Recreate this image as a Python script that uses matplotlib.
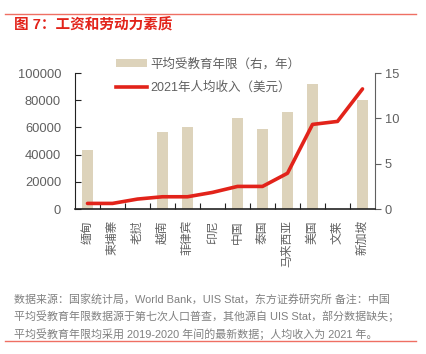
import matplotlib
matplotlib.use("Agg")
import matplotlib.pyplot as plt
from matplotlib.patches import Patch
from matplotlib.lines import Line2D

plt.rcParams['font.family'] = ['Liberation Sans', 'Noto Sans CJK SC', 'DejaVu Sans']

countries = ['缅甸', '柬埔寨', '老挝', '越南', '菲律宾', '印尼', '中国', '泰国',
             '马来西亚', '美国', '文莱', '新加坡']
# years of schooling (right axis), None = missing
edu_years = [6.5, None, None, 8.45, 9.05, None, 10.0, 8.8, 10.7, 13.75, None, 12.0]
# 2021 income per capita (USD, left axis)
income = [4100, 4100, 7300, 9000, 9000, 12200, 16600, 16600, 26300, 62200, 64400, 88300]

RED = '#E2231A'
BEIGE = '#DDD3BB'
GREY = '#606060'

fig = plt.figure(figsize=(4.26, 3.54), dpi=100)
ax = fig.add_axes([75 / 426, 1 - 209 / 354, 300 / 426, 136 / 354])
ax2 = ax.twinx()

x = list(range(len(countries)))
bx = [i for i, v in zip(x, edu_years) if v is not None]
bv = [v for v in edu_years if v is not None]
ax2.bar(bx, bv, width=0.45, color=BEIGE, zorder=1)
ax.plot(x, income, color=RED, lw=2.6, solid_capstyle='round', zorder=3)

# line above the bars
ax.set_zorder(ax2.get_zorder() + 1)
ax.patch.set_visible(False)

ax.set_xlim(-0.5, 11.5)
ax.set_ylim(0, 100000)
ax2.set_ylim(0, 15)
ax.set_yticks([0, 20000, 40000, 60000, 80000, 100000])
ax2.set_yticks([0, 5, 10, 15])

ax.set_xticks([i + 0.5 for i in range(11)])
ax.set_xticklabels([])
ax.set_xticks(x, minor=True)
ax.set_xticklabels(countries, minor=True, rotation=90, fontsize=8.5, color=GREY)
ax.tick_params(axis='x', which='major', direction='in', length=4, color='#222222')
ax.tick_params(axis='x', which='minor', length=0, pad=8)
ax.tick_params(axis='y', direction='in', length=4, color='#222222', labelsize=9.3, labelcolor=GREY, pad=10)
ax2.tick_params(axis='y', direction='out', length=4, color=GREY, labelsize=9.3, labelcolor=GREY, pad=3)

for a in (ax, ax2):
    a.spines['top'].set_visible(False)
ax.spines['right'].set_visible(False)
ax2.spines['left'].set_visible(False)
ax2.spines['bottom'].set_visible(False)
ax.spines['left'].set_color('#222222')
ax.spines['bottom'].set_color('#222222')
ax.spines['bottom'].set_linewidth(1.2)
ax2.spines['right'].set_color(GREY)

handles = [Patch(facecolor=BEIGE, edgecolor='none'),
           Line2D([0], [0], color=RED, lw=2.6)]
labels = ['平均受教育年限（右，年）', '2021年人均收入（美元）']
fig.legend(handles, labels, loc='upper left', bbox_to_anchor=(116 / 426, 1 - 58 / 354),
           frameon=False, fontsize=9, handlelength=2.5, handleheight=0.5,
           handletextpad=0.25, labelspacing=0.85, borderpad=0, borderaxespad=0,
           labelcolor=GREY)

# header / footer
fig.add_artist(Line2D([5 / 426, 416 / 426], [1 - 14 / 354] * 2, color='#EF6F63', lw=1))
fig.text(14 / 426, 1 - 25 / 354, '图 7：工资和劳动力素质', color=RED, fontsize=10.5,
         fontweight='bold', va='center', ha='left')
notes = ['数据来源：国家统计局，World Bank，UIS Stat，东方证券研究所 备注：中国',
         '平均受教育年限数据源于第七次人口普查，其他源自 UIS Stat，部分数据缺失；',
         '平均受教育年限均采用 2019-2020 年间的最新数据；人均收入为 2021 年。']
for i, s in enumerate(notes):
    fig.text(14 / 426, 1 - (299 + 17.5 * i) / 354, s, color='#808080', fontsize=7.9,
             va='center', ha='left')
fig.add_artist(Line2D([5 / 426, 416 / 426], [1 - 341 / 354] * 2, color='#EF6F63', lw=1))

fig.savefig('out.png', dpi=100)
